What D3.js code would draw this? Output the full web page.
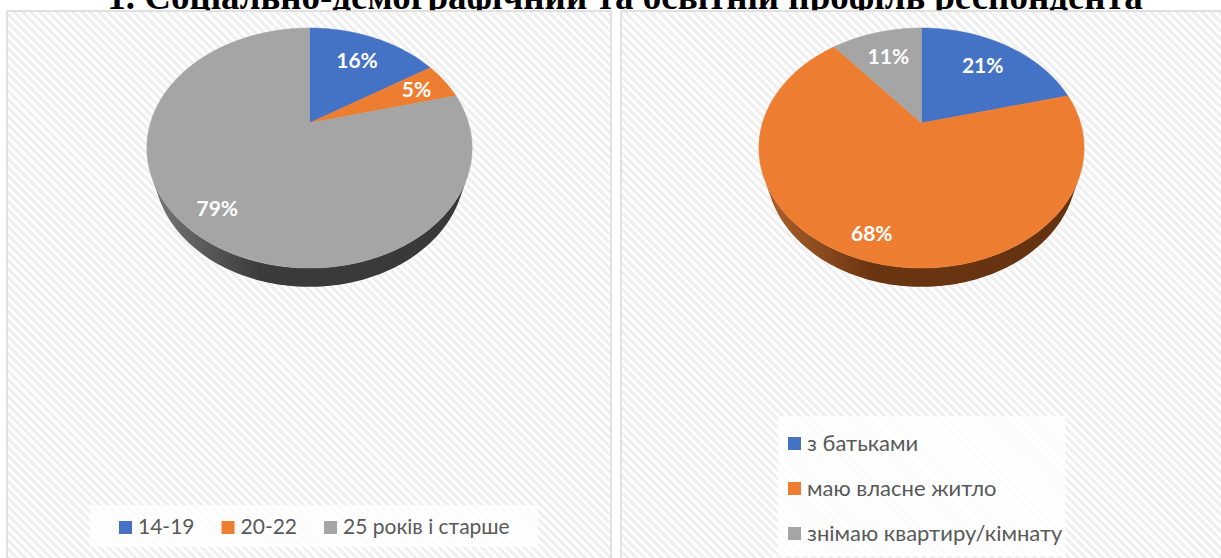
<!DOCTYPE html>
<html><head><meta charset="utf-8">
<script src="https://cdn.jsdelivr.net/npm/d3@7"></script>
<style>body{margin:0;background:#fff;overflow:hidden} svg{display:block}</style>
</head><body>
<svg id="c" width="1221" height="558"></svg>
<script>
const titleText = "1. Соціально-демографічний та освітній профіль респондента";
const ageCategories = ["14-19", "20-22", "25 років і старше"];
const ageValues = [16, 5, 79];
const housingCategories = ["з батьками", "маю власне житло", "знімаю квартиру/кімнату"];
const housingValues = [21, 68, 11];
const palette = ["#4472C4", "#ED7D31", "#A5A5A5"];
const sidePalette = [["#5f84c8", "#2c4a80"], ["#b3642c", "#6a3511"], ["#7c7c7c", "#3b3b3b"]];

const svg = d3.select("#c");
const defs = svg.append("defs");

// hatch background
const pat = defs.append("pattern").attr("id", "hatch").attr("patternUnits", "userSpaceOnUse")
  .attr("width", 6).attr("height", 6).attr("patternTransform", "rotate(-45)");
pat.append("rect").attr("width", 6).attr("height", 6).attr("fill", "#ffffff");
pat.append("rect").attr("width", 3).attr("height", 6).attr("fill", "#efefef");

// title
svg.append("text").attr("x", 625).attr("y", 9).attr("text-anchor", "middle")
  .attr("font-family", "'Liberation Serif','Times New Roman',serif").attr("font-weight", "bold")
  .attr("font-size", 37).attr("fill", "#000").text(titleText);

// panels
const panels = [{x: 7, w: 604}, {x: 621, w: 610}];
panels.forEach(p => {
  svg.append("rect").attr("x", p.x).attr("y", 11).attr("width", p.w).attr("height", 560)
    .attr("fill", "url(#hatch)").attr("stroke", "#d9d9d9").attr("stroke-width", 1.5);
});

const RAD = Math.PI / 180;
function makeProj(cx, cy) {
  const f = 528, D = 3.32, el = 46.2 * RAD, s = Math.sin(el), c = Math.cos(el), h = 0.2;
  const proj = (t, w = 0, r = 1) => {
    const u = r * Math.sin(t), v = r * Math.cos(t), z = -h * w;
    const depth = D + v * c - z * s;
    const Y = v * s + z * c;
    return [cx + f * u / depth, cy - f * Y / depth];
  };
  proj.k = 1 / (D * c);
  return proj;
}

const line = d3.line();
function arcPts(proj, a, b, w) {
  const n = Math.max(2, Math.ceil(Math.abs(b - a) / (1 * RAD)));
  return d3.range(n + 1).map(i => proj(a + (b - a) * i / n, w));
}

function drawPie(id, cx, cy, values, categories) {
  const g = svg.append("g");
  const proj = makeProj(cx, cy);
  const arcs = d3.pie().sort(null).value(d => d)(values);
  const total = d3.sum(values);
  const t1 = Math.acos(-proj.k), t2 = 2 * Math.PI - t1;
  arcs.forEach((a, i) => {
    const gr = defs.append("linearGradient").attr("id", `${id}side${i}`)
      .attr("gradientUnits", "userSpaceOnUse")
      .attr("x1", cx - 165).attr("x2", cx + 165).attr("y1", 0).attr("y2", 0);
    gr.append("stop").attr("offset", 0).attr("stop-color", sidePalette[i][0]);
    gr.append("stop").attr("offset", 0.35).attr("stop-color", sidePalette[i][1]);
    gr.append("stop").attr("offset", 1).attr("stop-color", d3.color(sidePalette[i][1]).darker(0.15));
  });
  arcs.forEach((a, i) => {
    const s0 = Math.max(a.startAngle, t1), s1 = Math.min(a.endAngle, t2);
    if (s1 <= s0) return;
    const pts = arcPts(proj, s0, s1, 0).concat(arcPts(proj, s1, s0, 1));
    g.append("path").attr("d", line(pts) + "Z").attr("fill", `url(#${id}side${i})`);
  });
  arcs.forEach((a, i) => {
    const pts = [proj(0, 0, 0)].concat(arcPts(proj, a.startAngle, a.endAngle, 0));
    g.append("path").attr("d", line(pts) + "Z").attr("fill", palette[i])
      .attr("stroke", palette[i]).attr("stroke-width", 0.5);
  });
  arcs.forEach((a, i) => {
    const mid = (a.startAngle + a.endAngle) / 2;
    const frac = a.value / total;
    const r = 0.7 + 0.15 * Math.max(0, -Math.cos(mid)) + (frac < 0.08 ? 0.08 : 0);
    const p = proj(mid, 0, r);
    g.append("text").attr("x", p[0]).attr("y", p[1]).attr("dy", "0.35em")
      .attr("text-anchor", "middle").attr("font-family", "Lato,'Open Sans',sans-serif")
      .attr("font-weight", "bold").attr("font-size", 21).attr("fill", "#fff")
      .text(Math.round(frac * 100) + "%");
  });
}

drawPie("a", 309.5, 123, ageValues, ageCategories);
drawPie("b", 921.5, 123, housingValues, housingCategories);

const legFont = "Lato,'Open Sans',sans-serif";
svg.append("rect").attr("x", 90).attr("y", 505).attr("width", 448).attr("height", 42)
  .attr("fill", "#fff").attr("fill-opacity", 0.8);
let lx = 119;
ageCategories.forEach((cat, i) => {
  svg.append("rect").attr("x", lx).attr("y", 521).attr("width", 13).attr("height", 13).attr("fill", palette[i]);
  const t = svg.append("text").attr("x", lx + 19).attr("y", 534)
    .attr("font-family", legFont).attr("font-size", 21).attr("fill", "#595959").text(cat);
  lx += 19 + t.node().getComputedTextLength() + 27;
});
svg.append("rect").attr("x", 778).attr("y", 416).attr("width", 287).attr("height", 140)
  .attr("fill", "#fff").attr("fill-opacity", 0.8);
housingCategories.forEach((cat, i) => {
  const y = 443 + i * 45;
  svg.append("rect").attr("x", 788).attr("y", y - 6).attr("width", 13).attr("height", 13).attr("fill", palette[i]);
  svg.append("text").attr("x", 807).attr("y", y + 8)
    .attr("font-family", legFont).attr("font-size", 22).attr("fill", "#595959").text(cat);
});
</script>
</body></html>
